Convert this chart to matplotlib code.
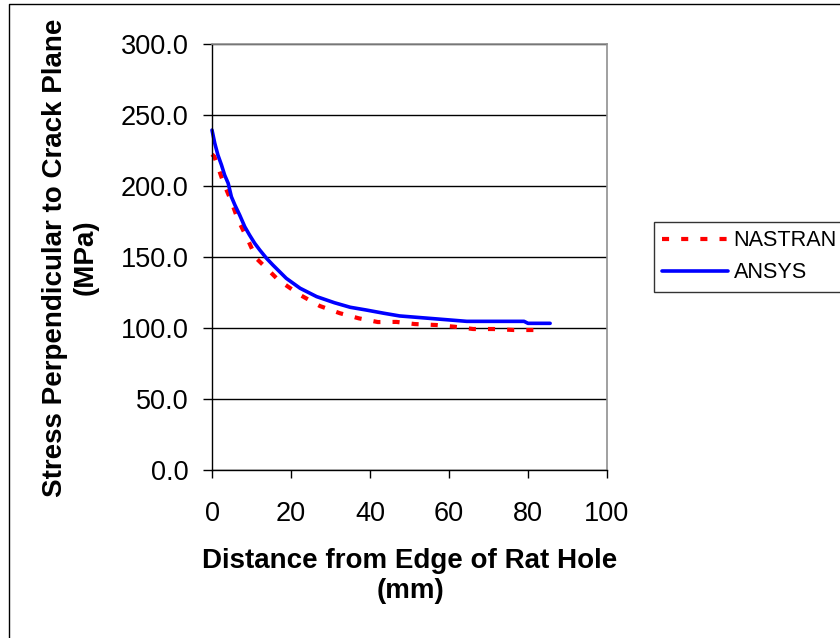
import matplotlib
matplotlib.use("Agg")
import matplotlib.pyplot as plt
from matplotlib.lines import Line2D

plt.rcParams['font.family'] = ['Liberation Sans', 'DejaVu Sans']

# Stress distribution along the crack plane
ansys_x = [0, 0.7, 1.5, 2.4, 3.2, 4.1, 4.9, 5.8, 7.0, 8.3, 9.5, 10.8, 12.1, 13.8, 15.4, 17.1,
           18.8, 22.3, 26.5, 31, 35, 39, 43.5, 47.5, 56, 64.5, 79, 80, 85.6]
ansys_y = [239.6, 230.3, 222.0, 215.0, 207.9, 202.1, 192.7, 186.8, 179.8, 171.5, 165.7, 159.9,
           155.1, 149.3, 144.6, 139.9, 135.2, 128.2, 122.3, 118, 114.8, 112.9, 110.6, 108.7,
           106.8, 104.9, 104.9, 103.5, 103.5]

nastran_x = [0, 0.6, 2.8, 4.9, 6.6, 9.1, 11.2, 13.8, 16.8, 22.3, 27.3, 32.4, 37.2, 42.0, 46.7,
             51.3, 56.8, 61.4, 66.1, 71.3, 76.4, 82.3]
nastran_y = [222.5, 220.9, 203.3, 189.2, 176.3, 162.2, 149.3, 142.3, 134.0, 123.5, 115.7, 110.6,
             107.0, 104.4, 104.5, 103.0, 102.3, 101.1, 99.5, 99.5, 98.8, 98.8]

x_ticks = [0, 20, 40, 60, 80, 100]
y_ticks = [0, 50, 100, 150, 200, 250, 300]

W, H = 840, 638
fig = plt.figure(figsize=(W / 100, H / 100), dpi=100)
ax = fig.add_axes([212 / W, 1 - 470.3 / H, (607 - 212) / W, (470.3 - 44.3) / H])

ax.set_xlim(0, 100)
ax.set_ylim(0, 300)
ax.set_xticks(x_ticks)
ax.set_yticks(y_ticks)
ax.set_yticklabels([f"{v:.1f}" for v in y_ticks])
ax.grid(axis='y', color='black', linewidth=1.0)
ax.set_axisbelow(True)

ax.tick_params(axis='both', direction='out', width=1.0, labelsize=19.5, color='black')
ax.tick_params(axis='y', length=6.5, pad=10.5)
ax.tick_params(axis='x', length=5.8, pad=16)

for side in ('top', 'right'):
    ax.spines[side].set_color('#909090')
    ax.spines[side].set_linewidth(1.2)
for side in ('left', 'bottom'):
    ax.spines[side].set_color('black')
    ax.spines[side].set_linewidth(1.0)

ln_n, = ax.plot(nastran_x, nastran_y, color='#ff0000', linewidth=3.0,
                dashes=(1.7, 2.9), dash_capstyle='butt', label='NASTRAN', clip_on=False)
ln_a, = ax.plot(ansys_x, ansys_y, color='#0000ff', linewidth=2.6,
                solid_capstyle='round', label='ANSYS', clip_on=False)

# axis titles
fig.text(410 / W, 1 - 576 / H, "Distance from Edge of Rat Hole\n(mm)", fontsize=20,
         fontweight='bold', ha='center', va='center', multialignment='center', linespacing=1.25)
fig.text(70.5 / W, 1 - 257.5 / H, "Stress Perpendicular to Crack Plane\n(MPa)", fontsize=20,
         fontweight='bold', ha='center', va='center', multialignment='center',
         rotation=90, linespacing=1.25)

leg = fig.legend(handles=[ln_n, ln_a], loc='upper left',
                 bbox_to_anchor=(654 / W, 1 - 222 / H), fontsize=15.6,
                 frameon=True, fancybox=False, handlelength=3.05, handletextpad=0.25,
                 borderpad=0.38, labelspacing=0.52, borderaxespad=0)
leg.get_frame().set_edgecolor('black')
leg.get_frame().set_linewidth(1.0)

# figure border (left and top edges)
fig.add_artist(Line2D([9 / W, 9 / W, 1.0], [0.0, 1 - 4 / H, 1 - 4 / H],
                      transform=fig.transFigure, color='black', linewidth=1.0))

fig.savefig("out.png", dpi=100)
